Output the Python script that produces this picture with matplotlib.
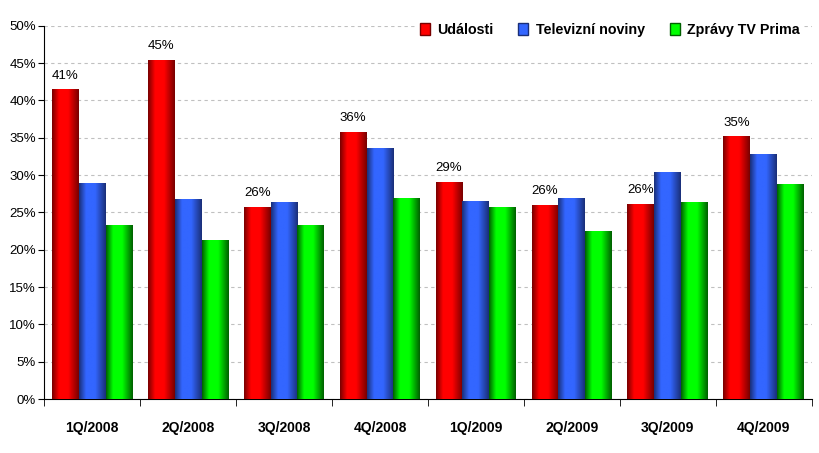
import matplotlib
matplotlib.use("Agg")
import matplotlib.pyplot as plt
from matplotlib.patches import Patch
from matplotlib.colors import LinearSegmentedColormap
import numpy as np

plt.rcParams['font.family'] = ['Liberation Sans', 'DejaVu Sans']

quarters = ['1Q/2008', '2Q/2008', '3Q/2008', '4Q/2008',
            '1Q/2009', '2Q/2009', '3Q/2009', '4Q/2009']
udalosti = [41.4, 45.4, 25.7, 35.7, 29.0, 25.9, 26.1, 35.1]
televizni = [28.8, 26.7, 26.3, 33.5, 26.5, 26.9, 30.3, 32.8]
prima = [23.3, 21.2, 23.3, 26.8, 25.7, 22.4, 26.3, 28.7]
labels_udalosti = ['41%', '45%', '26%', '36%', '29%', '26%', '26%', '35%']
series_names = ['Události', 'Televizní noviny', 'Zprávy TV Prima']

# dark edge / bright centre for the shaded bars
shades = [('#780000', '#ff0000'), ('#1a2f78', '#3366ff'), ('#006000', '#00ff00')]

fig = plt.figure(figsize=(8.19, 4.53), dpi=100)
ax = fig.add_axes([0.054, 0.119, 0.937, 0.824])

x = np.arange(len(quarters))
width = 0.28
offsets = [-width, 0, width]
all_bars = []
grad = np.array([np.concatenate([np.linspace(0, 0.5, 40), np.linspace(0.5, 1, 60)])])
for vals, off, (dark, bright) in zip([udalosti, televizni, prima], offsets, shades):
    bars = ax.bar(x + off, vals, width, color='none', edgecolor='none', zorder=3)
    cmap = LinearSegmentedColormap.from_list('g', [dark, bright, bright, dark])
    for b in bars:
        ax.imshow(grad, cmap=cmap, aspect='auto', zorder=3,
                  extent=[b.get_x(), b.get_x() + b.get_width(), 0, b.get_height()],
                  interpolation='bilinear')
    all_bars.append(bars)

for b, lab in zip(all_bars[0], labels_udalosti):
    ax.annotate(lab, (b.get_x() + b.get_width() / 2, b.get_height()),
                xytext=(0, 6), textcoords='offset points',
                ha='center', va='bottom', fontsize=9.5)

ax.set_xlim(-0.5, len(quarters) - 0.5)
ax.set_ylim(0, 50)
ax.set_yticks(np.arange(0, 51, 5))
ax.set_yticklabels([f'{v}%' for v in range(0, 51, 5)], fontsize=9.5)
ax.set_xticks(x)
ax.set_xticklabels(quarters, fontsize=10, fontweight='bold')
ax.set_xticks(np.arange(-0.5, len(quarters), 1), minor=True)
ax.tick_params(axis='x', which='major', length=0, pad=16)
ax.tick_params(axis='x', which='minor', length=5, direction='out')
ax.tick_params(axis='y', length=4, direction='out', pad=2)

for s in ['top', 'right']:
    ax.spines[s].set_visible(False)
ax.spines['left'].set_color('black')
ax.spines['bottom'].set_color('black')
ax.grid(axis='y', color='#c0c0c0', linestyle=(0, (3, 3)), linewidth=0.8, zorder=0)
ax.set_axisbelow(True)

handles = [Patch(facecolor=bright, edgecolor=dark) for dark, bright in shades]
leg = ax.legend(handles, series_names, loc='center right', ncol=3, frameon=True,
                facecolor='white', edgecolor='none', framealpha=1,
                prop={'weight': 'bold', 'size': 10.3}, handlelength=0.7, handleheight=0.9,
                handletextpad=0.5, columnspacing=1.75, bbox_to_anchor=(0.988, 0.99),
                borderaxespad=0.0, borderpad=0.2)

fig.savefig('out.png', dpi=100)
